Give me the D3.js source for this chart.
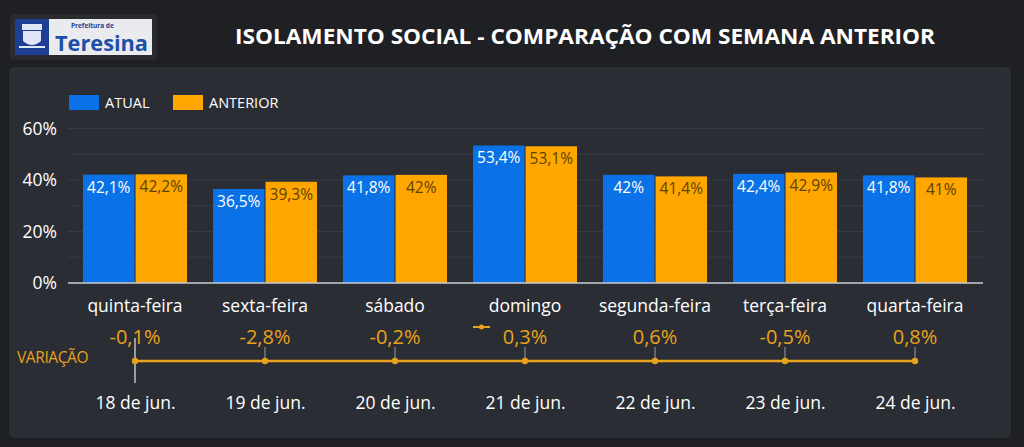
<!DOCTYPE html>
<html>
<head>
<meta charset="utf-8">
<script src="https://cdn.jsdelivr.net/npm/d3@7"></script>
<style>
  html, body { margin: 0; padding: 0; background: #1f2023; }
  svg { display: block; font-family: "Open Sans", "Noto Sans", sans-serif; }
</style>
</head>
<body>
<svg id="chart" width="1024" height="447"></svg>
<script>
var dias = ['quinta-feira', 'sexta-feira', 'sábado', 'domingo', 'segunda-feira', 'terça-feira', 'quarta-feira'];
var datas = ['18 de jun.', '19 de jun.', '20 de jun.', '21 de jun.', '22 de jun.', '23 de jun.', '24 de jun.'];
var atual = [42.1, 36.5, 41.8, 53.4, 42, 42.4, 41.8];
var anterior = [42.2, 39.3, 42, 53.1, 41.4, 42.9, 41];
var variacao = [-0.1, -2.8, -0.2, 0.3, 0.6, -0.5, 0.8];
var series = ['ATUAL', 'ANTERIOR'];
var yTicks = [0, 20, 40, 60];

var BLUE = '#0a72e6';
var ORANGE = '#ffa600';
var LINE = '#e9a21c';

var svg = d3.select('#chart');
var fmt = function (v) { return String(v).replace('.', ',') + '%'; };

// header
var logo = svg.append('g');
logo.append('rect').attr('x', 10).attr('y', 14).attr('width', 147).attr('height', 46)
    .attr('rx', 4).attr('fill', '#2a2b2f');
logo.append('rect').attr('x', 15).attr('y', 19).attr('width', 137).attr('height', 36).attr('fill', '#e9ebef');
logo.append('rect').attr('x', 15).attr('y', 19).attr('width', 34).attr('height', 36).attr('fill', '#1d3f93');
logo.append('rect').attr('x', 22).attr('y', 24).attr('width', 20).attr('height', 6).attr('fill', '#dfe6f5');
logo.append('path').attr('d', 'M23,31 h18 v10 q-9,8 -18,0 z').attr('fill', '#dfe6f5');
logo.append('rect').attr('x', 19).attr('y', 46).attr('width', 26).attr('height', 2).attr('fill', '#dfe6f5');
logo.append('text').attr('x', 71).attr('y', 28).attr('font-size', 6.5).attr('font-weight', 700)
    .attr('fill', '#1d3f93').text('Prefeitura de');
logo.append('text').attr('x', 55).attr('y', 51).attr('font-size', 21).attr('font-weight', 700)
    .attr('fill', '#1d4fa8').attr('textLength', 93).attr('lengthAdjust', 'spacingAndGlyphs').text('Teresina');

svg.append('text').attr('x', 585).attr('y', 44).attr('text-anchor', 'middle')
    .attr('font-size', 22).attr('font-weight', 700).attr('fill', '#ffffff')
    .attr('textLength', 700).attr('lengthAdjust', 'spacingAndGlyphs')
    .text('ISOLAMENTO SOCIAL - COMPARAÇÃO COM SEMANA ANTERIOR');

// painel
svg.append('rect').attr('x', 10).attr('y', 68).attr('width', 1000).attr('height', 369)
    .attr('rx', 4).attr('fill', '#2b2d34').attr('stroke', '#33353c');

// escalas
var x0 = d3.scaleBand().domain(dias).range([70, 980]).paddingInner(0.2).paddingOuter(0.1);
var x1 = d3.scaleBand().domain(series).range([0, x0.bandwidth()]).paddingInner(0.02);
var y = d3.scaleLinear().domain([0, 60]).range([283, 128.5]);
var xp = d3.scalePoint().domain(datas).range([x0(dias[0]) + x0.bandwidth() / 2, x0(dias[6]) + x0.bandwidth() / 2]);

// grade
svg.append('g').selectAll('line').data(d3.range(10, 61, 10)).join('line')
    .attr('x1', 68).attr('x2', 983).attr('y1', function (d) { return y(d); }).attr('y2', function (d) { return y(d); })
    .attr('stroke', '#383b43').attr('stroke-width', 1);

var yAxis = svg.append('g').attr('transform', 'translate(61,0)')
    .call(d3.axisLeft(y).tickValues(yTicks).tickSize(0).tickPadding(4).tickFormat(function (d) { return d + '%'; }));
yAxis.select('.domain').remove();
yAxis.selectAll('text').attr('fill', '#ffffff').attr('font-size', 17.5).attr('font-family', '"Open Sans", sans-serif');

// barras
var grupos = svg.append('g').selectAll('g').data(dias).join('g')
    .attr('transform', function (d) { return 'translate(' + x0(d) + ',0)'; });

grupos.each(function (d, i) {
    var g = d3.select(this);
    var vals = [atual[i], anterior[i]];
    g.selectAll('rect').data(vals).join('rect')
        .attr('x', function (v, j) { return x1(series[j]); })
        .attr('width', x1.bandwidth())
        .attr('y', function (v) { return y(v); })
        .attr('height', function (v) { return y(0) - y(v); })
        .attr('fill', function (v, j) { return j === 0 ? BLUE : ORANGE; });
    g.selectAll('text').data(vals).join('text')
        .attr('x', function (v, j) { return x1(series[j]) + x1.bandwidth() / 2; })
        .attr('y', function (v) { return y(v) + 18; })
        .attr('text-anchor', 'middle').attr('font-size', 15.5)
        .attr('fill', function (v, j) { return j === 0 ? '#ffffff' : '#5e4200'; })
        .text(fmt);
});

svg.append('line').attr('x1', 68).attr('x2', 983).attr('y1', y(0)).attr('y2', y(0))
    .attr('stroke', '#c9ccd3').attr('stroke-width', 1.5);

// rótulos de categoria
svg.append('g').selectAll('text').data(dias).join('text')
    .attr('x', function (d) { return x0(d) + x0.bandwidth() / 2; })
    .attr('y', 312).attr('text-anchor', 'middle').attr('font-size', 17.5).attr('fill', '#ffffff')
    .text(function (d) { return d; });

// legenda
var leg = svg.append('g').attr('transform', 'translate(69,95)');
leg.selectAll('rect').data(series).join('rect')
    .attr('x', function (d, i) { return i * 104; }).attr('width', 30).attr('height', 15)
    .attr('fill', function (d, i) { return i === 0 ? BLUE : ORANGE; });
leg.selectAll('text').data(series).join('text')
    .attr('x', function (d, i) { return i * 104 + 36; }).attr('y', 12.5)
    .attr('font-size', 14.5).attr('fill', '#ffffff')
    .text(function (d) { return d; });

// variação
var lineY = 361;
svg.append('text').attr('x', 17).attr('y', 363).attr('font-size', 15.5).attr('fill', LINE)
    .attr('letter-spacing', -0.4).text('VARIAÇÃO');

svg.append('line').attr('x1', xp(datas[0])).attr('x2', xp(datas[0])).attr('y1', 338).attr('y2', 383)
    .attr('stroke', '#e6e6e6').attr('stroke-width', 1.2);

svg.append('path')
    .datum(datas)
    .attr('d', d3.line().x(function (d) { return xp(d); }).y(lineY))
    .attr('fill', 'none').attr('stroke', LINE).attr('stroke-width', 2.5);

var pts = svg.append('g').selectAll('g').data(datas).join('g')
    .attr('transform', function (d) { return 'translate(' + xp(d) + ',0)'; });
pts.append('line').attr('y1', 347).attr('y2', lineY).attr('stroke', '#9a9ca3').attr('stroke-width', 1);
pts.append('circle').attr('cy', lineY).attr('r', 3.2).attr('fill', LINE);
pts.append('text').attr('y', 344).attr('text-anchor', 'middle').attr('font-size', 20).attr('fill', LINE)
    .text(function (d, i) { return fmt(variacao[i]); });

// ícone da série de linha
svg.append('line').attr('x1', 473).attr('x2', 490).attr('y1', 327).attr('y2', 327).attr('stroke', LINE).attr('stroke-width', 2);
svg.append('circle').attr('cx', 481.5).attr('cy', 327).attr('r', 2.5).attr('fill', LINE);

// eixo de datas
var xAxis = svg.append('g').attr('transform', 'translate(0,391)')
    .call(d3.axisBottom(xp).tickSize(0).tickPadding(0));
xAxis.select('.domain').remove();
xAxis.selectAll('text').attr('fill', '#ffffff').attr('font-size', 17.5).attr('font-weight', 400)
    .attr('font-family', '"Open Sans", sans-serif').attr('dy', '1em');
</script>
</body>
</html>
